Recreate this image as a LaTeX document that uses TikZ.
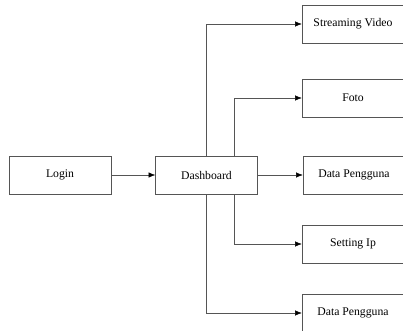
\documentclass[tikz,border=0pt]{standalone}
\usepackage{fontspec}
\setmainfont{Liberation Serif}
\usepackage{tikz}
\usetikzlibrary{shapes,arrows,arrows.meta}
\usetikzlibrary{positioning}
\definecolor{boxline}{RGB}{85,85,85}
\tikzstyle{block} = [rectangle, draw=boxline, fill=white, 
    minimum width=3.06cm, minimum height=1.14cm, text centered,
    font=\fontsize{10}{12}\selectfont]
\tikzstyle{line} = [draw=boxline, -{Latex[length=2mm,width=1.6mm,color=black]}]

\begin{document}
\begin{tikzpicture}[node distance = 1.32cm,auto]
    \useasboundingbox (0,0) rectangle (12.09,-9.93);
    % Place nodes
    \node [block] at (1.8,-5.25) (login) {Login};
    \node [block, right=1.32cm of login] (dash) {Dashboard};
    \node [block, right=1.35cm of dash] (datamid) {Data Pengguna};
    \node [block] at (10.59,-0.72) (video) {Streaming Video};
    \node [block] at (10.59,-2.94) (foto) {Foto};
    \node [block] at (10.59,-7.32) (setip) {Setting Ip};
    \node [block] at (10.59,-9.39) (databot) {Data Pengguna};
    % Draw edges
    \path [line] (login) -- (dash);
    \path [line] (dash) -- (datamid);
    \path [line] (dash.north) |- (video.west);
    \path [line] ([xshift=0.84cm]dash.north) |- (foto.west);
    \path [line] ([xshift=0.84cm]dash.south) |- (setip.west);
    \path [line] (dash.south) |- (databot.west);
\end{tikzpicture}
\end{document}
